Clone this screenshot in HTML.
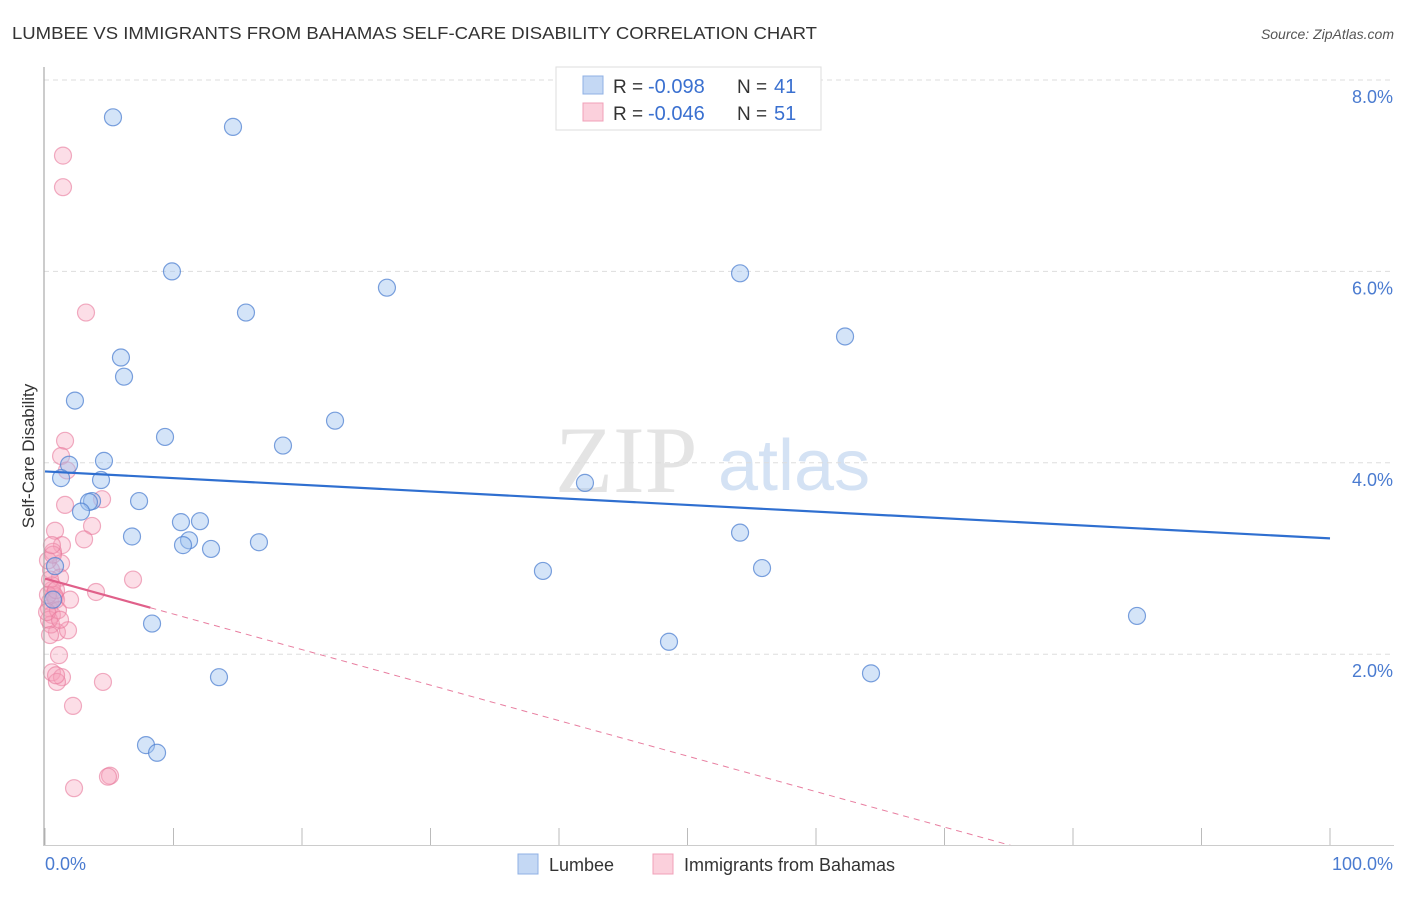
<!DOCTYPE html>
<html><head><meta charset="utf-8"><style>
body{margin:0;background:#fff;font-family:"Liberation Sans",sans-serif;}
</style></head><body>
<svg id="c" width="1406" height="892" xmlns="http://www.w3.org/2000/svg" font-family="Liberation Sans, sans-serif">
<text x="12" y="39" font-size="17.5" fill="#333" textLength="805" lengthAdjust="spacingAndGlyphs">LUMBEE VS IMMIGRANTS FROM BAHAMAS SELF-CARE DISABILITY CORRELATION CHART</text>
<text x="1394" y="39" font-size="14" fill="#555" font-style="italic" text-anchor="end">Source: ZipAtlas.com</text>
<text x="34" y="456" font-size="17" fill="#333" text-anchor="middle" transform="rotate(-90 34 456)">Self-Care Disability</text>
<text x="555" y="492" font-size="95" fill="#e4e4e4" style="font-family:'Liberation Serif',serif">ZIP</text>
<text x="718" y="490" font-size="72" fill="#d4e2f4">atlas</text>
<g id="grid"></g><g id="pts"></g><g id="trend"></g>
<line x1="44" y1="67" x2="44" y2="846" stroke="#aaa" stroke-width="1.2"/>
<line x1="44" y1="845.5" x2="1394" y2="845.5" stroke="#ccc"/>
<text x="45" y="870" font-size="18" fill="#4a7bd0">0.0%</text>
<text x="1393" y="870" font-size="18" fill="#4a7bd0" text-anchor="end">100.0%</text>
<g>
<rect x="556" y="67" width="265" height="63" fill="#fff" stroke="#ddd"/>
<rect x="583" y="76" width="20" height="18" fill="#c4d8f4" stroke="#8fb0e4"/>
<rect x="583" y="103" width="20" height="18" fill="#fbd0dc" stroke="#f0a0b8"/>
<text x="613" y="93" font-size="19" fill="#333">R =</text>
<text x="648" y="93" font-size="20" fill="#3a70d0">-0.098</text>
<text x="737" y="93" font-size="19" fill="#333">N =</text>
<text x="774" y="93" font-size="20" fill="#3a70d0">41</text>
<text x="613" y="120" font-size="19" fill="#333">R =</text>
<text x="648" y="120" font-size="20" fill="#3a70d0">-0.046</text>
<text x="737" y="120" font-size="19" fill="#333">N =</text>
<text x="774" y="120" font-size="20" fill="#3a70d0">51</text>
</g>
<g>
<rect x="518" y="854" width="20" height="20" fill="#c4d8f4" stroke="#8fb0e4"/>
<text x="549" y="871" font-size="18" fill="#333">Lumbee</text>
<rect x="653" y="854" width="20" height="20" fill="#fbd0dc" stroke="#f0a0b8"/>
<text x="684" y="871" font-size="18" fill="#333">Immigrants from Bahamas</text>
</g>
</svg>
<script>
const yTicks=[2,4,6,8];
const yTickLabels=["2.0%","4.0%","6.0%","8.0%"];
const xTickVals=[0,10,20,30,40,50,60,70,80,90,100];
const lumbeeX=[5.29,14.63,9.88,54.09,26.61,15.64,62.26,5.91,6.15,2.33,22.57,9.34,18.52,4.59,1.87,1.25,4.36,42.02,7.32,3.66,3.42,2.80,10.58,12.06,6.77,11.21,10.74,12.92,16.65,54.09,38.75,55.80,0.78,84.98,8.33,48.56,13.54,64.28,7.86,8.72,0.62];
const lumbeeY=[7.61,7.51,6.00,5.98,5.83,5.57,5.32,5.10,4.90,4.65,4.44,4.27,4.18,4.02,3.98,3.84,3.82,3.79,3.60,3.60,3.59,3.49,3.38,3.39,3.23,3.19,3.14,3.10,3.17,3.27,2.87,2.90,2.92,2.40,2.32,2.13,1.76,1.80,1.05,0.97,2.57];
const bahX=[1.40,1.40,3.19,1.56,1.25,1.71,1.56,4.44,3.66,0.78,3.04,1.32,0.62,1.25,0.47,1.17,6.85,3.97,0.54,0.78,0.39,0.31,0.54,0.93,1.79,0.47,0.31,1.09,0.54,1.32,0.93,4.51,2.18,5.06,4.90,2.26,0.54,0.70,0.39,0.23,0.86,1.01,0.16,0.39,0.86,0.62,1.17,0.23,1.95,0.54,0.86];
const bahY=[7.21,6.88,5.57,4.23,4.07,3.92,3.56,3.62,3.34,3.29,3.20,3.14,3.07,2.95,2.88,2.80,2.78,2.65,2.67,2.60,2.55,2.48,2.41,2.23,2.25,2.31,2.36,1.99,1.81,1.76,1.71,1.71,1.46,0.73,0.72,0.60,2.72,2.62,2.78,2.98,2.57,2.46,2.44,2.20,1.78,3.04,2.36,2.62,2.57,3.14,2.67];
const lumbeeTrend=[3.91,3.21];
const bahTrend=[2.79,-0.0371];
const bahSolidEnd=8.2;

const NS="http://www.w3.org/2000/svg";
const sx=v=>45+v*12.85;
const sy=v=>845.6-v*95.7;
function mk(t,a,p){const e=document.createElementNS(NS,t);for(const k in a)e.setAttribute(k,a[k]);p.appendChild(e);return e;}
const grid=document.getElementById('grid'),pts=document.getElementById('pts'),tr=document.getElementById('trend');
yTicks.forEach((v,i)=>{
 const l=mk('line',{x1:44,x2:1394,y1:sy(v),y2:sy(v),stroke:'#ddd','stroke-dasharray':'5,4'},grid);
 
 
 const t=mk('text',{x:1393,y:sy(v)+23,'font-size':18,fill:'#4a7bd0','text-anchor':'end'},grid);
 t.textContent=yTickLabels[i];
 
 
});
xTickVals.forEach(v=>{
 const l=mk('line',{x1:sx(v),x2:sx(v),y1:828,y2:845,stroke:'#bbb'},grid);
 
 
});
bahX.forEach((x,i)=>{
 const c=mk('circle',{cx:sx(x),cy:sy(bahY[i]),r:8.5,fill:'rgba(245,160,185,0.35)',stroke:'rgba(232,120,155,0.6)','stroke-width':1.2},pts);
 
 
});
lumbeeX.forEach((x,i)=>{
 const c=mk('circle',{cx:sx(x),cy:sy(lumbeeY[i]),r:8.5,fill:'rgba(160,195,240,0.45)',stroke:'rgba(80,130,210,0.75)','stroke-width':1.2},pts);
 
 
});
const bl=mk('line',{x1:sx(0),y1:sy(lumbeeTrend[0]),x2:sx(100),y2:sy(lumbeeTrend[1]),stroke:'#2f6fd0','stroke-width':2.2},tr);


const zeroX=-bahTrend[0]/bahTrend[1];
const pd=mk('line',{x1:sx(bahSolidEnd),y1:sy(bahTrend[0]+bahTrend[1]*bahSolidEnd),x2:sx(zeroX),y2:sy(0),stroke:'#e87ea0','stroke-width':1,'stroke-dasharray':'6,5'},tr);


const ps=mk('line',{x1:sx(0),y1:sy(bahTrend[0]),x2:sx(bahSolidEnd),y2:sy(bahTrend[0]+bahTrend[1]*bahSolidEnd),stroke:'#e0608a','stroke-width':2.2},tr);


</script>
</body></html>
